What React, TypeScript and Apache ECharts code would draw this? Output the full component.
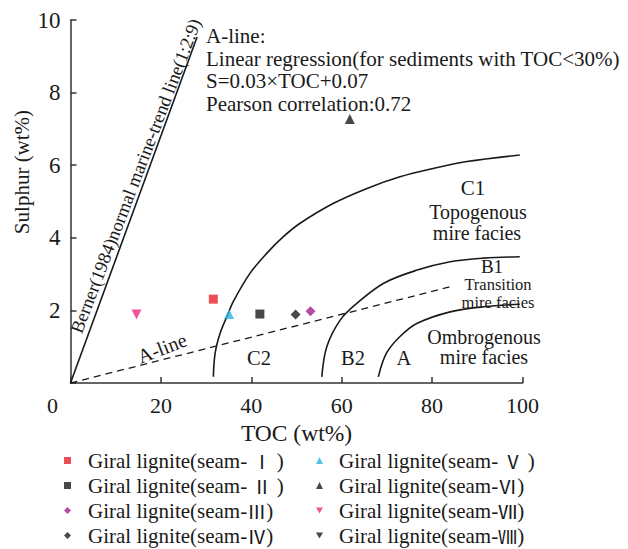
import React, { useEffect, useRef } from "react";
import * as echarts from "echarts";

const FONT = "'Liberation Serif', 'Times New Roman', serif";

// scatter data: [TOC, S]
const seamI = [[31.6, 2.31]];
const seamII = [[41.9, 1.9]];
const seamIII = [[53.1, 1.98]];
const seamIV = [[49.8, 1.89]];
const seamV = [[35.1, 1.9]];
const seamVI = [[61.8, 7.27]];
const seamVII = [[14.6, 1.89]];
const seamVIII: number[][] = [];

const seriesNames = [
  "Giral lignite(seam- Ⅰ )",
  "Giral lignite(seam- Ⅱ )",
  "Giral lignite(seam-Ⅲ)",
  "Giral lignite(seam-Ⅳ)",
  "Giral lignite(seam- Ⅴ )",
  "Giral lignite(seam-Ⅵ)",
  "Giral lignite(seam-Ⅶ)",
  "Giral lignite(seam-Ⅷ)",
];
const seriesData = [seamI, seamII, seamIII, seamIV, seamV, seamVI, seamVII, seamVIII];
const seriesColors = ["#e8202a", "#1a1a1a", "#a01f8f", "#1a1a1a", "#2bb5e6", "#1a1a1a", "#ee2a80", "#1a1a1a"];
const seriesSymbols = ["rect", "rect", "diamond", "diamond", "triangle", "triangle", "triangle", "triangle"];
const seriesRotate = [0, 0, 0, 0, 0, 0, 180, 180];
const seriesSizes = [9, 9, 10, 10, 10, 10, 10, 10];

// reference lines
const bernerLine = [[0, 0], [28.0, 9.53]];
const aLine = [[0, 0], [84, 2.65]];
const curveC = [[31.6, 0.17], [32.0, 0.82], [33.1, 1.37], [34.6, 1.83], [36.0, 2.24], [39.7, 3.02], [43.4, 3.57], [47.1, 4.03], [50.8, 4.4], [58.2, 4.95], [65.6, 5.36], [72.9, 5.68], [80.3, 5.91], [87.7, 6.1], [99.4, 6.28]];
const curveB = [[55.6, 0.17], [56.7, 1.0], [59.7, 1.74], [63.4, 2.2], [69.3, 2.75], [76.7, 3.11], [84.0, 3.34], [91.4, 3.44], [99.4, 3.48]];
const curveA = [[68.1, 0.17], [69.9, 0.82], [72.9, 1.28], [76.6, 1.64], [84.0, 1.96], [91.4, 2.1], [99.4, 2.17]];

const xTicks = [0, 20, 40, 60, 80, 100];
const yTicks = [0, 2, 4, 6, 8, 10];

const DOWN_TRI = "path://M0,0L10,0L5,8.66Z";

function txt(text: string, x: number, y: number, size: number, extra: any = {}) {
  return {
    type: "text",
    x,
    y,
    rotation: extra.rotation || 0,
    style: {
      text,
      fontSize: size,
      fontFamily: FONT,
      fill: "#1a1a1a",
      align: extra.align || "center",
      verticalAlign: "middle",
    },
    z: 100,
  };
}

export default function App() {
  const ref = useRef<HTMLDivElement>(null);
  useEffect(() => {
    if (!ref.current) return;
    const chart = echarts.init(ref.current, null, { renderer: "svg" });
    const scatterSeries = seriesNames.map((name, i) => ({
      name,
      type: "scatter",
      data: seriesData[i],
      symbol: seriesSymbols[i],
      symbolRotate: seriesRotate[i],
      symbolSize: seriesSizes[i],
      itemStyle: { color: seriesColors[i] },
      z: 10,
    }));
    const lineStyleBase = { color: "#1a1a1a", width: 1.6 };
    const lineSeries = [
      { name: "berner", type: "line", data: bernerLine, symbol: "none", lineStyle: lineStyleBase },
      { name: "aline", type: "line", data: aLine, symbol: "none", lineStyle: { color: "#1a1a1a", width: 1.3, type: [7, 5] } },
      { name: "curveC", type: "line", data: curveC, symbol: "none", smooth: 0.35, lineStyle: lineStyleBase },
      { name: "curveB", type: "line", data: curveB, symbol: "none", smooth: 0.35, lineStyle: lineStyleBase },
      { name: "curveA", type: "line", data: curveA, symbol: "none", smooth: 0.35, lineStyle: lineStyleBase },
    ];
    const legendItems = seriesNames.map((name, i) =>
      seriesRotate[i] === 180 ? { name, icon: DOWN_TRI } : { name }
    );
    const legendCommon = {
      orient: "vertical",
      padding: 0,
      itemWidth: 7,
      itemHeight: 7,
      itemGap: 4,
      height: 110,
      selectedMode: false,
      formatter: (name: string) => name.replace(/([Ⅰ-Ⅷ]+)/, "{r|$1}"),
    };
    const legendText = (pad: number) => ({
      fontFamily: FONT,
      fontSize: 21,
      color: "#1a1a1a",
      lineHeight: 21,
      padding: [0, 0, 0, pad],
      rich: {
        r: { fontFamily: "'Noto Sans CJK SC', sans-serif", fontSize: 19, color: "#1a1a1a", lineHeight: 21 },
      },
    });
    chart.setOption({
      animation: false,
      backgroundColor: "#ffffff",
      grid: { left: 70.5, top: 20, right: 105.5, bottom: 166, containLabel: false },
      xAxis: {
        type: "value",
        min: xTicks[0],
        max: xTicks[xTicks.length - 1],
        interval: 20,
        axisLine: { lineStyle: { color: "#333", width: 1.5 } },
        axisTick: { inside: true, length: 6, lineStyle: { color: "#333", width: 1.5 } },
        splitLine: { show: false },
        axisLabel: {
          margin: 11,
          fontFamily: FONT,
          fontSize: 22,
          color: "#1a1a1a",
          formatter: (v: number) => (v === 0 ? "{z|0}" : String(v)),
          rich: { z: { padding: [0, 36, 0, 0], fontFamily: FONT, fontSize: 22, color: "#1a1a1a" } },
        },
        name: "TOC (wt%)",
        nameLocation: "middle",
        nameGap: 36,
        nameTextStyle: { fontFamily: FONT, fontSize: 23.5, color: "#1a1a1a" },
      },
      yAxis: {
        type: "value",
        min: yTicks[0],
        max: yTicks[yTicks.length - 1],
        interval: 2,
        axisLine: { show: true, lineStyle: { color: "#333", width: 1.5 } },
        axisTick: { show: true, inside: true, length: 6, lineStyle: { color: "#333", width: 1.5 } },
        splitLine: { show: false },
        axisLabel: {
          margin: 10,
          fontFamily: FONT,
          fontSize: 23,
          color: "#1a1a1a",
          formatter: (v: number) => (v === 0 ? "" : String(v)),
        },
      },
      legend: [
        { ...legendCommon, left: 64, top: 450, textStyle: legendText(12), data: legendItems.slice(0, 4) },
        { ...legendCommon, left: 316, top: 450, textStyle: legendText(11), data: legendItems.slice(4, 8) },
      ],
      graphic: [
        txt("Sulphur (wt%)", 22, 172, 21, { rotation: Math.PI / 2 }),
        txt("A-line:", 206, 36, 21, { align: "left" }),
        txt("Linear regression(for sediments with TOC<30%)", 206, 59, 21, { align: "left" }),
        txt("S=0.03×TOC+0.07", 206, 81, 21, { align: "left" }),
        txt("Pearson correlation:0.72", 206, 104, 21, { align: "left" }),
        txt("Berner(1984)normal marine-trend line(1:2:9)", 136, 176, 18.5, { rotation: (69 * Math.PI) / 180 }),
        txt("A-line", 162, 348, 20, { rotation: (21 * Math.PI) / 180 }),
        txt("C1", 473, 188, 21),
        txt("Topogenous", 478, 212, 20),
        txt("mire facies", 477, 233, 20),
        txt("B1", 492, 266, 19),
        txt("Transition", 498, 284, 16.5),
        txt("mire facies", 498, 302.5, 16.5),
        txt("Ombrogenous", 484, 337, 20),
        txt("mire facies", 484, 357, 20),
        txt("C2", 259, 358, 20.5),
        txt("B2", 353, 358, 20.5),
        txt("A", 404, 358, 20.5),
      ],
      series: [...lineSeries, ...scatterSeries],
    });
    return () => chart.dispose();
  }, []);
  return <div ref={ref} style={{ position: "absolute", left: 0, top: 0, width: 628, height: 549 }} />;
}
